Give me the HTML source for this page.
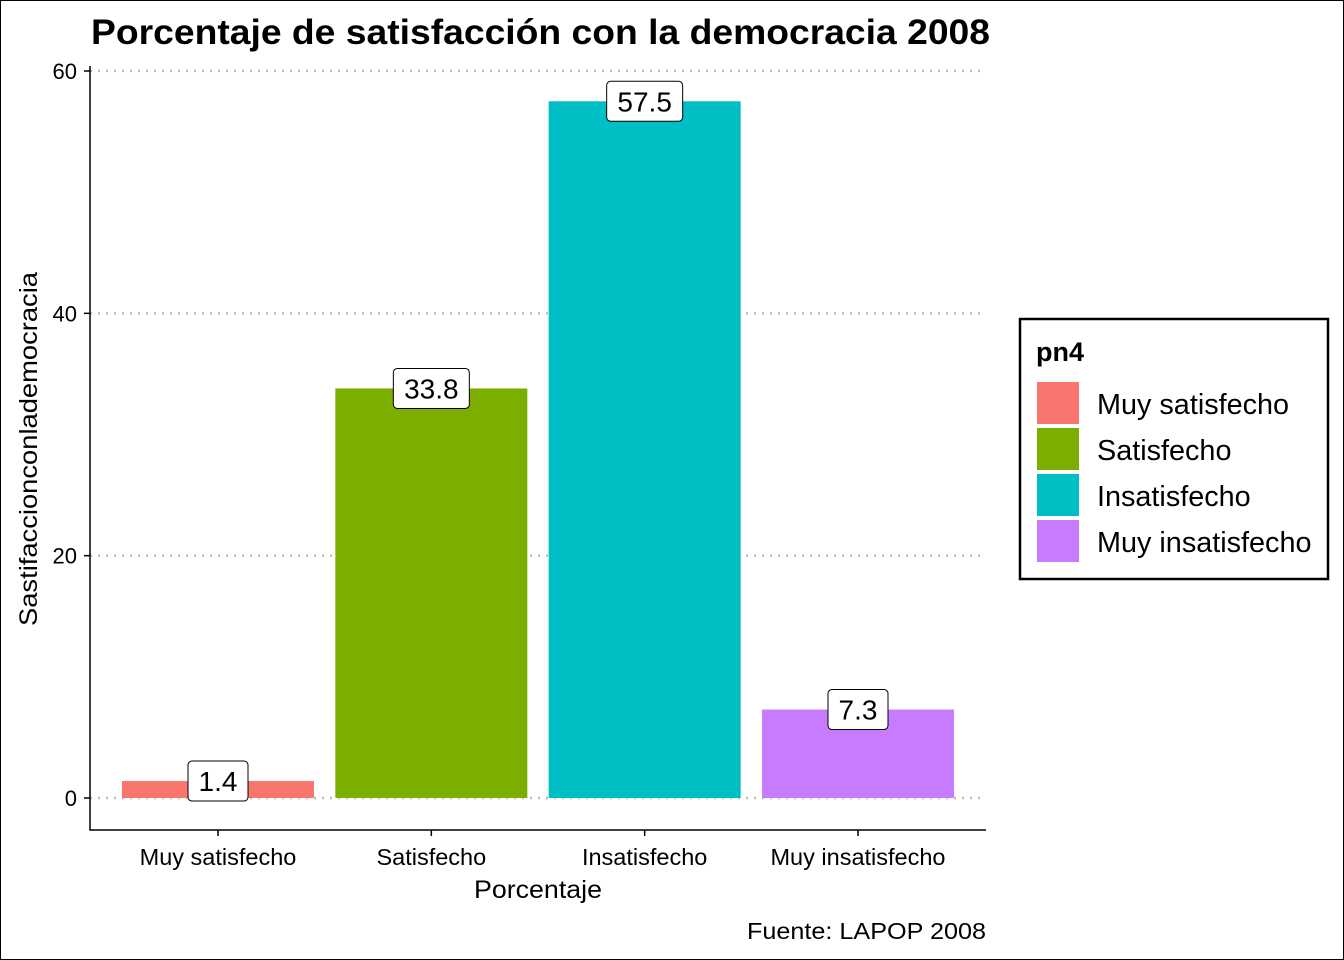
<!DOCTYPE html>
<html><head><meta charset="utf-8"><style>
body{margin:0;background:#fff}
svg{display:block;font-family:"Liberation Sans",Arial,sans-serif}
</style></head><body>
<svg id="c" width="1344" height="960" xmlns="http://www.w3.org/2000/svg">
<rect x="0.5" y="0.5" width="1343" height="959" fill="#fff" stroke="#000"/>
<text x="91" y="44" font-size="35" font-weight="bold" textLength="899" lengthAdjust="spacingAndGlyphs">Porcentaje de satisfacción con la democracia 2008</text>
<g id="grid"></g>
<g id="bars"></g>
<g id="labels"></g>
<g id="axes"></g>
<text x="538" y="898" font-size="25" text-anchor="middle" textLength="128" lengthAdjust="spacingAndGlyphs">Porcentaje</text>
<text transform="translate(37,449) rotate(-90)" font-size="25" text-anchor="middle" textLength="354" lengthAdjust="spacingAndGlyphs">Sastifaccionconlademocracia</text>
<text x="986" y="939" font-size="23" text-anchor="end" textLength="239" lengthAdjust="spacingAndGlyphs">Fuente: LAPOP 2008</text>
<g>
<rect x="1020" y="319" width="308" height="260" fill="#fff" stroke="#000" stroke-width="2.5"/>
<text x="1036" y="361" font-size="27" font-weight="bold">pn4</text>
<g id="leg"></g>
</g>
</svg>
<script>
const categories=["Muy satisfecho","Satisfecho","Insatisfecho","Muy insatisfecho"];
const values=[1.4,33.8,57.5,7.3];
const colors=["#F8766D","#7CAE00","#00BFC4","#C77CFF"];
const yTicks=[0,20,40,60];
const NS="http://www.w3.org/2000/svg";
const x0=90,x1=986,y0=798,ppu=(798-71)/60;
const band=(x1-x0)/ (categories.length+0.2);
function xC(i){return x0+band*0.6+band*i;}
function yS(v){return y0-v*ppu;}
function mk(t,a,p){const e=document.createElementNS(NS,t);for(const k in a)e.setAttribute(k,a[k]);document.getElementById(p).appendChild(e);return e;}
yTicks.forEach((t,i)=>{
 const g=mk('line',{x1:x0,x2:x1,y1:yS(t),y2:yS(t),stroke:'#bdbdbd','stroke-width':2.5,'stroke-dasharray':'2,6'},'grid');
 
 
 const tk=mk('line',{x1:x0-6,x2:x0,y1:yS(t),y2:yS(t),stroke:'#000','stroke-width':1.5},'axes');
 
 
 const tl=mk('text',{x:x0-13,y:yS(t)+8,'font-size':22,'text-anchor':'end'},'axes');
 tl.textContent=t;
 
 
});
const bw=band*0.9;
categories.forEach((c,i)=>{
 const cx=xC(i);
 const b=mk('rect',{x:cx-bw/2,y:yS(values[i]),width:bw,height:y0-yS(values[i]),fill:colors[i]},'bars');
 
 
 const s=values[i].toFixed(1);
 const w=s.length*16+12;
 const r=mk('rect',{x:cx-w/2,y:yS(values[i])-20,width:w,height:40,rx:4,fill:'#fff',stroke:'#000','stroke-width':1},'labels');
 
 
 const t=mk('text',{x:cx,y:yS(values[i])+10,'font-size':28,'text-anchor':'middle'},'labels');
 t.textContent=s;
 
 
 const tk=mk('line',{x1:cx,x2:cx,y1:830,y2:836,stroke:'#000','stroke-width':1.5},'axes');
 
 
 const tl=mk('text',{x:cx,y:865,'font-size':23.5,'text-anchor':'middle'},'axes');
 tl.textContent=c;
 
 
 const lk=mk('rect',{x:1037,y:382+46*i,width:42,height:42,fill:colors[i]},'leg');
 
 
 const lt=mk('text',{x:1097,y:414+46*i,'font-size':28.8},'leg');
 lt.textContent=c;
 
 
});
const ax=mk('path',{d:`M${x0} 66 V830 H${x1}`,fill:'none',stroke:'#000','stroke-width':1.5},'axes');


</script>
</body></html>
